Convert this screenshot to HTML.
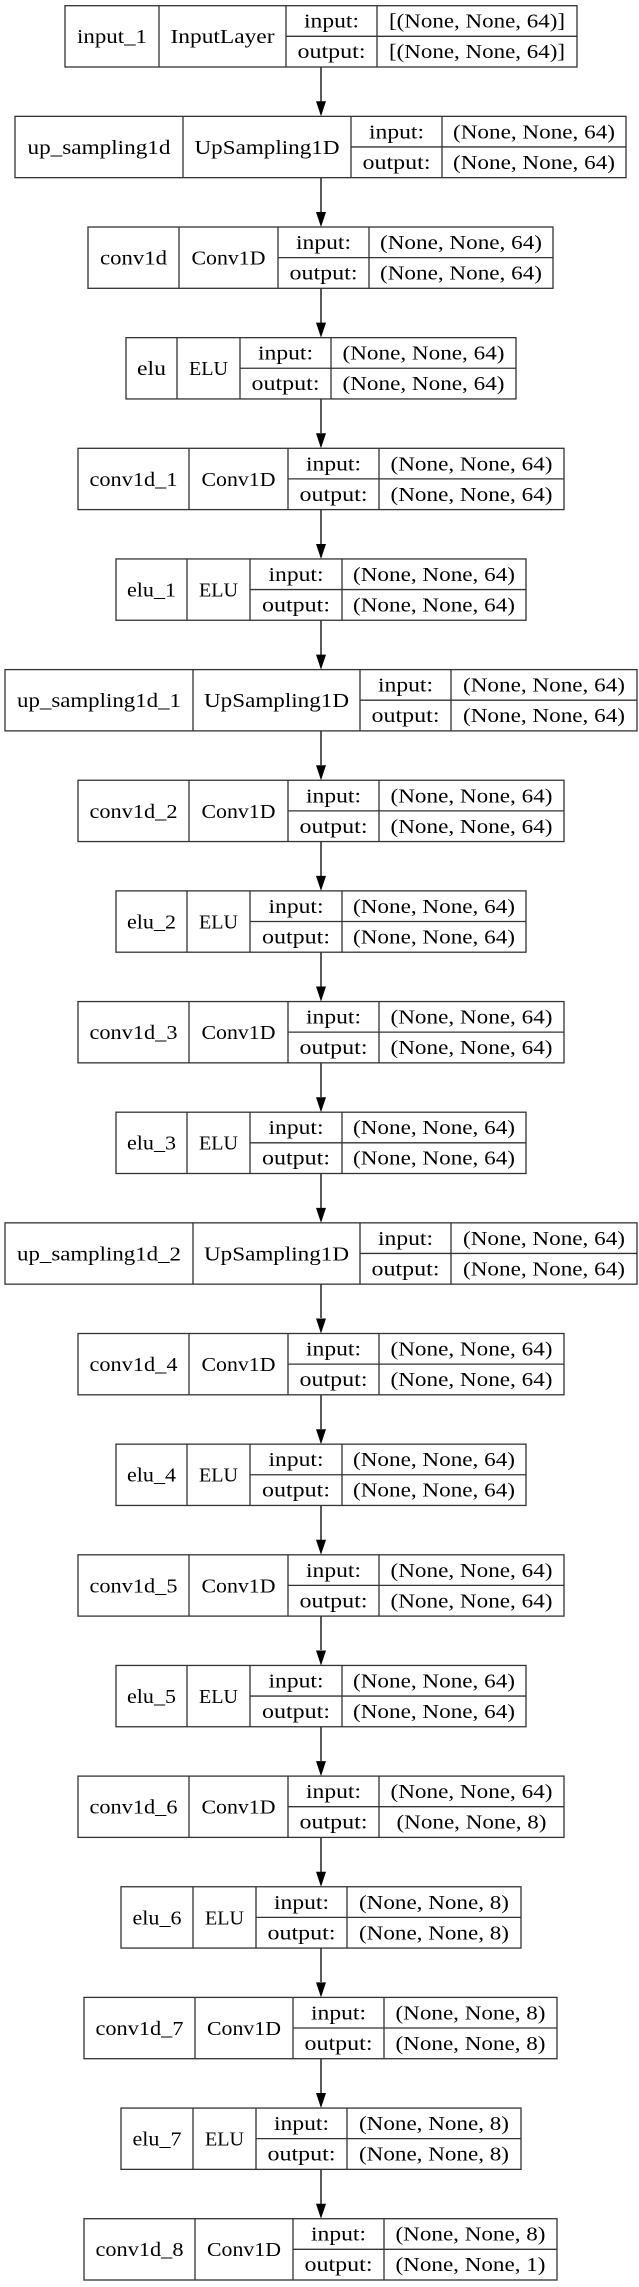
<!DOCTYPE html>
<html><head><meta charset="utf-8"><style>
html,body{margin:0;padding:0;background:#fff;}
svg{display:block;}
text{font-family:"Liberation Serif",serif;font-size:20px;fill:#000;text-anchor:middle;}
.b{fill:none;stroke:#333;stroke-width:1.3;}
.a{stroke:#000;stroke-width:1.3;}
</style></head><body>
<svg width="639" height="2287" viewBox="0 0 639 2287" xmlns="http://www.w3.org/2000/svg">
<g class="a">
<line x1="321" y1="67" x2="321" y2="102"/><line x1="321" y1="177.6" x2="321" y2="212"/><line x1="321" y1="288.3" x2="321" y2="323"/><line x1="321" y1="399" x2="321" y2="433"/><line x1="321" y1="509.6" x2="321" y2="544"/><line x1="321" y1="620.3" x2="321" y2="655"/><line x1="321" y1="730.9" x2="321" y2="765"/><line x1="321" y1="841.5" x2="321" y2="876"/><line x1="321" y1="952.2" x2="321" y2="987"/><line x1="321" y1="1062.9" x2="321" y2="1097"/><line x1="321" y1="1173.5" x2="321" y2="1208"/><line x1="321" y1="1284.2" x2="321" y2="1318"/><line x1="321" y1="1394.8" x2="321" y2="1429"/><line x1="321" y1="1505.5" x2="321" y2="1540"/><line x1="321" y1="1616.1" x2="321" y2="1650"/><line x1="321" y1="1726.8" x2="321" y2="1761"/><line x1="321" y1="1837.4" x2="321" y2="1872"/><line x1="321" y1="1948" x2="321" y2="1982"/><line x1="321" y1="2058.7" x2="321" y2="2093"/><line x1="321" y1="2169.4" x2="321" y2="2204"/>
</g>
<g fill="#000">
<polygon points="316,101.3 326,101.3 321,116.3"/><polygon points="316,212 326,212 321,227"/><polygon points="316,322.6 326,322.6 321,337.6"/><polygon points="316,433.3 326,433.3 321,448.3"/><polygon points="316,544 326,544 321,559"/><polygon points="316,654.6 326,654.6 321,669.6"/><polygon points="316,765.3 326,765.3 321,780.3"/><polygon points="316,875.9 326,875.9 321,890.9"/><polygon points="316,986.5 326,986.5 321,1001.5"/><polygon points="316,1097.2 326,1097.2 321,1112.2"/><polygon points="316,1207.9 326,1207.9 321,1222.9"/><polygon points="316,1318.5 326,1318.5 321,1333.5"/><polygon points="316,1429.2 326,1429.2 321,1444.2"/><polygon points="316,1539.8 326,1539.8 321,1554.8"/><polygon points="316,1650.5 326,1650.5 321,1665.5"/><polygon points="316,1761.1 326,1761.1 321,1776.1"/><polygon points="316,1871.8 326,1871.8 321,1886.8"/><polygon points="316,1982.4 326,1982.4 321,1997.4"/><polygon points="316,2093 326,2093 321,2108"/><polygon points="316,2203.7 326,2203.7 321,2218.7"/>
</g>

<g transform="translate(0,5.7)"><rect class="b" x="65" y="0" width="512" height="61.3"/><path class="b" d="M159 0V61.3M286 0V61.3M377 0V61.3M286 30.6H577"/>
<text x="112" y="37.5" textLength="70" lengthAdjust="spacingAndGlyphs">input_1</text><text x="222.5" y="37.5" textLength="104" lengthAdjust="spacingAndGlyphs">InputLayer</text>
<text x="331.5" y="22" textLength="55" lengthAdjust="spacingAndGlyphs">input:</text><text x="331.5" y="52.5" textLength="68" lengthAdjust="spacingAndGlyphs">output:</text>
<text x="477" y="22" textLength="176" lengthAdjust="spacingAndGlyphs">[(None, None, 64)]</text><text x="477" y="52.5" textLength="176" lengthAdjust="spacingAndGlyphs">[(None, None, 64)]</text></g>

<g transform="translate(0,116.35)"><rect class="b" x="15" y="0" width="611" height="61.3"/><path class="b" d="M183 0V61.3M351 0V61.3M442 0V61.3M351 30.6H626"/>
<text x="99" y="37.5" textLength="143" lengthAdjust="spacingAndGlyphs">up_sampling1d</text><text x="267" y="37.5" textLength="145" lengthAdjust="spacingAndGlyphs">UpSampling1D</text>
<text x="396.5" y="22" textLength="55" lengthAdjust="spacingAndGlyphs">input:</text><text x="396.5" y="52.5" textLength="68" lengthAdjust="spacingAndGlyphs">output:</text>
<text x="534" y="22" textLength="162" lengthAdjust="spacingAndGlyphs">(None, None, 64)</text><text x="534" y="52.5" textLength="162" lengthAdjust="spacingAndGlyphs">(None, None, 64)</text></g>

<g transform="translate(0,227)"><rect class="b" x="88" y="0" width="465" height="61.3"/><path class="b" d="M179 0V61.3M278 0V61.3M369 0V61.3M278 30.6H553"/>
<text x="133.5" y="37.5" textLength="67" lengthAdjust="spacingAndGlyphs">conv1d</text><text x="228.5" y="37.5" textLength="74" lengthAdjust="spacingAndGlyphs">Conv1D</text>
<text x="323.5" y="22" textLength="55" lengthAdjust="spacingAndGlyphs">input:</text><text x="323.5" y="52.5" textLength="68" lengthAdjust="spacingAndGlyphs">output:</text>
<text x="461" y="22" textLength="162" lengthAdjust="spacingAndGlyphs">(None, None, 64)</text><text x="461" y="52.5" textLength="162" lengthAdjust="spacingAndGlyphs">(None, None, 64)</text></g>

<g transform="translate(0,337.65)"><rect class="b" x="126" y="0" width="390" height="61.3"/><path class="b" d="M177 0V61.3M240 0V61.3M331 0V61.3M240 30.6H516"/>
<text x="151.5" y="37.5" textLength="29" lengthAdjust="spacingAndGlyphs">elu</text><text x="208.5" y="37.5" textLength="39" lengthAdjust="spacingAndGlyphs">ELU</text>
<text x="285.5" y="22" textLength="55" lengthAdjust="spacingAndGlyphs">input:</text><text x="285.5" y="52.5" textLength="68" lengthAdjust="spacingAndGlyphs">output:</text>
<text x="423.5" y="22" textLength="162" lengthAdjust="spacingAndGlyphs">(None, None, 64)</text><text x="423.5" y="52.5" textLength="162" lengthAdjust="spacingAndGlyphs">(None, None, 64)</text></g>

<g transform="translate(0,448.3)"><rect class="b" x="78" y="0" width="486" height="61.3"/><path class="b" d="M189 0V61.3M288 0V61.3M379 0V61.3M288 30.6H564"/>
<text x="133.5" y="37.5" textLength="88" lengthAdjust="spacingAndGlyphs">conv1d_1</text><text x="238.5" y="37.5" textLength="74" lengthAdjust="spacingAndGlyphs">Conv1D</text>
<text x="333.5" y="22" textLength="55" lengthAdjust="spacingAndGlyphs">input:</text><text x="333.5" y="52.5" textLength="68" lengthAdjust="spacingAndGlyphs">output:</text>
<text x="471.5" y="22" textLength="162" lengthAdjust="spacingAndGlyphs">(None, None, 64)</text><text x="471.5" y="52.5" textLength="162" lengthAdjust="spacingAndGlyphs">(None, None, 64)</text></g>

<g transform="translate(0,558.95)"><rect class="b" x="116" y="0" width="410" height="61.3"/><path class="b" d="M187 0V61.3M250 0V61.3M342 0V61.3M250 30.6H526"/>
<text x="151.5" y="37.5" textLength="49" lengthAdjust="spacingAndGlyphs">elu_1</text><text x="218.5" y="37.5" textLength="39" lengthAdjust="spacingAndGlyphs">ELU</text>
<text x="296" y="22" textLength="55" lengthAdjust="spacingAndGlyphs">input:</text><text x="296" y="52.5" textLength="68" lengthAdjust="spacingAndGlyphs">output:</text>
<text x="434" y="22" textLength="162" lengthAdjust="spacingAndGlyphs">(None, None, 64)</text><text x="434" y="52.5" textLength="162" lengthAdjust="spacingAndGlyphs">(None, None, 64)</text></g>

<g transform="translate(0,669.6)"><rect class="b" x="5" y="0" width="632" height="61.3"/><path class="b" d="M193 0V61.3M360 0V61.3M451 0V61.3M360 30.6H637"/>
<text x="99" y="37.5" textLength="164" lengthAdjust="spacingAndGlyphs">up_sampling1d_1</text><text x="276.5" y="37.5" textLength="145" lengthAdjust="spacingAndGlyphs">UpSampling1D</text>
<text x="405.5" y="22" textLength="55" lengthAdjust="spacingAndGlyphs">input:</text><text x="405.5" y="52.5" textLength="68" lengthAdjust="spacingAndGlyphs">output:</text>
<text x="544" y="22" textLength="162" lengthAdjust="spacingAndGlyphs">(None, None, 64)</text><text x="544" y="52.5" textLength="162" lengthAdjust="spacingAndGlyphs">(None, None, 64)</text></g>

<g transform="translate(0,780.25)"><rect class="b" x="78" y="0" width="486" height="61.3"/><path class="b" d="M189 0V61.3M288 0V61.3M379 0V61.3M288 30.6H564"/>
<text x="133.5" y="37.5" textLength="88" lengthAdjust="spacingAndGlyphs">conv1d_2</text><text x="238.5" y="37.5" textLength="74" lengthAdjust="spacingAndGlyphs">Conv1D</text>
<text x="333.5" y="22" textLength="55" lengthAdjust="spacingAndGlyphs">input:</text><text x="333.5" y="52.5" textLength="68" lengthAdjust="spacingAndGlyphs">output:</text>
<text x="471.5" y="22" textLength="162" lengthAdjust="spacingAndGlyphs">(None, None, 64)</text><text x="471.5" y="52.5" textLength="162" lengthAdjust="spacingAndGlyphs">(None, None, 64)</text></g>

<g transform="translate(0,890.9)"><rect class="b" x="116" y="0" width="410" height="61.3"/><path class="b" d="M187 0V61.3M250 0V61.3M342 0V61.3M250 30.6H526"/>
<text x="151.5" y="37.5" textLength="49" lengthAdjust="spacingAndGlyphs">elu_2</text><text x="218.5" y="37.5" textLength="39" lengthAdjust="spacingAndGlyphs">ELU</text>
<text x="296" y="22" textLength="55" lengthAdjust="spacingAndGlyphs">input:</text><text x="296" y="52.5" textLength="68" lengthAdjust="spacingAndGlyphs">output:</text>
<text x="434" y="22" textLength="162" lengthAdjust="spacingAndGlyphs">(None, None, 64)</text><text x="434" y="52.5" textLength="162" lengthAdjust="spacingAndGlyphs">(None, None, 64)</text></g>

<g transform="translate(0,1001.55)"><rect class="b" x="78" y="0" width="486" height="61.3"/><path class="b" d="M189 0V61.3M288 0V61.3M379 0V61.3M288 30.6H564"/>
<text x="133.5" y="37.5" textLength="88" lengthAdjust="spacingAndGlyphs">conv1d_3</text><text x="238.5" y="37.5" textLength="74" lengthAdjust="spacingAndGlyphs">Conv1D</text>
<text x="333.5" y="22" textLength="55" lengthAdjust="spacingAndGlyphs">input:</text><text x="333.5" y="52.5" textLength="68" lengthAdjust="spacingAndGlyphs">output:</text>
<text x="471.5" y="22" textLength="162" lengthAdjust="spacingAndGlyphs">(None, None, 64)</text><text x="471.5" y="52.5" textLength="162" lengthAdjust="spacingAndGlyphs">(None, None, 64)</text></g>

<g transform="translate(0,1112.2)"><rect class="b" x="116" y="0" width="410" height="61.3"/><path class="b" d="M187 0V61.3M250 0V61.3M342 0V61.3M250 30.6H526"/>
<text x="151.5" y="37.5" textLength="49" lengthAdjust="spacingAndGlyphs">elu_3</text><text x="218.5" y="37.5" textLength="39" lengthAdjust="spacingAndGlyphs">ELU</text>
<text x="296" y="22" textLength="55" lengthAdjust="spacingAndGlyphs">input:</text><text x="296" y="52.5" textLength="68" lengthAdjust="spacingAndGlyphs">output:</text>
<text x="434" y="22" textLength="162" lengthAdjust="spacingAndGlyphs">(None, None, 64)</text><text x="434" y="52.5" textLength="162" lengthAdjust="spacingAndGlyphs">(None, None, 64)</text></g>

<g transform="translate(0,1222.85)"><rect class="b" x="5" y="0" width="632" height="61.3"/><path class="b" d="M193 0V61.3M360 0V61.3M451 0V61.3M360 30.6H637"/>
<text x="99" y="37.5" textLength="164" lengthAdjust="spacingAndGlyphs">up_sampling1d_2</text><text x="276.5" y="37.5" textLength="145" lengthAdjust="spacingAndGlyphs">UpSampling1D</text>
<text x="405.5" y="22" textLength="55" lengthAdjust="spacingAndGlyphs">input:</text><text x="405.5" y="52.5" textLength="68" lengthAdjust="spacingAndGlyphs">output:</text>
<text x="544" y="22" textLength="162" lengthAdjust="spacingAndGlyphs">(None, None, 64)</text><text x="544" y="52.5" textLength="162" lengthAdjust="spacingAndGlyphs">(None, None, 64)</text></g>

<g transform="translate(0,1333.5)"><rect class="b" x="78" y="0" width="486" height="61.3"/><path class="b" d="M189 0V61.3M288 0V61.3M379 0V61.3M288 30.6H564"/>
<text x="133.5" y="37.5" textLength="88" lengthAdjust="spacingAndGlyphs">conv1d_4</text><text x="238.5" y="37.5" textLength="74" lengthAdjust="spacingAndGlyphs">Conv1D</text>
<text x="333.5" y="22" textLength="55" lengthAdjust="spacingAndGlyphs">input:</text><text x="333.5" y="52.5" textLength="68" lengthAdjust="spacingAndGlyphs">output:</text>
<text x="471.5" y="22" textLength="162" lengthAdjust="spacingAndGlyphs">(None, None, 64)</text><text x="471.5" y="52.5" textLength="162" lengthAdjust="spacingAndGlyphs">(None, None, 64)</text></g>

<g transform="translate(0,1444.15)"><rect class="b" x="116" y="0" width="410" height="61.3"/><path class="b" d="M187 0V61.3M250 0V61.3M342 0V61.3M250 30.6H526"/>
<text x="151.5" y="37.5" textLength="49" lengthAdjust="spacingAndGlyphs">elu_4</text><text x="218.5" y="37.5" textLength="39" lengthAdjust="spacingAndGlyphs">ELU</text>
<text x="296" y="22" textLength="55" lengthAdjust="spacingAndGlyphs">input:</text><text x="296" y="52.5" textLength="68" lengthAdjust="spacingAndGlyphs">output:</text>
<text x="434" y="22" textLength="162" lengthAdjust="spacingAndGlyphs">(None, None, 64)</text><text x="434" y="52.5" textLength="162" lengthAdjust="spacingAndGlyphs">(None, None, 64)</text></g>

<g transform="translate(0,1554.8)"><rect class="b" x="78" y="0" width="486" height="61.3"/><path class="b" d="M189 0V61.3M288 0V61.3M379 0V61.3M288 30.6H564"/>
<text x="133.5" y="37.5" textLength="88" lengthAdjust="spacingAndGlyphs">conv1d_5</text><text x="238.5" y="37.5" textLength="74" lengthAdjust="spacingAndGlyphs">Conv1D</text>
<text x="333.5" y="22" textLength="55" lengthAdjust="spacingAndGlyphs">input:</text><text x="333.5" y="52.5" textLength="68" lengthAdjust="spacingAndGlyphs">output:</text>
<text x="471.5" y="22" textLength="162" lengthAdjust="spacingAndGlyphs">(None, None, 64)</text><text x="471.5" y="52.5" textLength="162" lengthAdjust="spacingAndGlyphs">(None, None, 64)</text></g>

<g transform="translate(0,1665.45)"><rect class="b" x="116" y="0" width="410" height="61.3"/><path class="b" d="M187 0V61.3M250 0V61.3M342 0V61.3M250 30.6H526"/>
<text x="151.5" y="37.5" textLength="49" lengthAdjust="spacingAndGlyphs">elu_5</text><text x="218.5" y="37.5" textLength="39" lengthAdjust="spacingAndGlyphs">ELU</text>
<text x="296" y="22" textLength="55" lengthAdjust="spacingAndGlyphs">input:</text><text x="296" y="52.5" textLength="68" lengthAdjust="spacingAndGlyphs">output:</text>
<text x="434" y="22" textLength="162" lengthAdjust="spacingAndGlyphs">(None, None, 64)</text><text x="434" y="52.5" textLength="162" lengthAdjust="spacingAndGlyphs">(None, None, 64)</text></g>

<g transform="translate(0,1776.1)"><rect class="b" x="78" y="0" width="486" height="61.3"/><path class="b" d="M189 0V61.3M288 0V61.3M379 0V61.3M288 30.6H564"/>
<text x="133.5" y="37.5" textLength="88" lengthAdjust="spacingAndGlyphs">conv1d_6</text><text x="238.5" y="37.5" textLength="74" lengthAdjust="spacingAndGlyphs">Conv1D</text>
<text x="333.5" y="22" textLength="55" lengthAdjust="spacingAndGlyphs">input:</text><text x="333.5" y="52.5" textLength="68" lengthAdjust="spacingAndGlyphs">output:</text>
<text x="471.5" y="22" textLength="162" lengthAdjust="spacingAndGlyphs">(None, None, 64)</text><text x="471.5" y="52.5" textLength="150" lengthAdjust="spacingAndGlyphs">(None, None, 8)</text></g>

<g transform="translate(0,1886.75)"><rect class="b" x="121" y="0" width="400" height="61.3"/><path class="b" d="M193 0V61.3M256 0V61.3M347 0V61.3M256 30.6H521"/>
<text x="157" y="37.5" textLength="49" lengthAdjust="spacingAndGlyphs">elu_6</text><text x="224.5" y="37.5" textLength="39" lengthAdjust="spacingAndGlyphs">ELU</text>
<text x="301.5" y="22" textLength="55" lengthAdjust="spacingAndGlyphs">input:</text><text x="301.5" y="52.5" textLength="68" lengthAdjust="spacingAndGlyphs">output:</text>
<text x="434" y="22" textLength="150" lengthAdjust="spacingAndGlyphs">(None, None, 8)</text><text x="434" y="52.5" textLength="150" lengthAdjust="spacingAndGlyphs">(None, None, 8)</text></g>

<g transform="translate(0,1997.4)"><rect class="b" x="84" y="0" width="473" height="61.3"/><path class="b" d="M195 0V61.3M293 0V61.3M384 0V61.3M293 30.6H557"/>
<text x="139.5" y="37.5" textLength="88" lengthAdjust="spacingAndGlyphs">conv1d_7</text><text x="244" y="37.5" textLength="74" lengthAdjust="spacingAndGlyphs">Conv1D</text>
<text x="338.5" y="22" textLength="55" lengthAdjust="spacingAndGlyphs">input:</text><text x="338.5" y="52.5" textLength="68" lengthAdjust="spacingAndGlyphs">output:</text>
<text x="470.5" y="22" textLength="150" lengthAdjust="spacingAndGlyphs">(None, None, 8)</text><text x="470.5" y="52.5" textLength="150" lengthAdjust="spacingAndGlyphs">(None, None, 8)</text></g>

<g transform="translate(0,2108.05)"><rect class="b" x="121" y="0" width="400" height="61.3"/><path class="b" d="M193 0V61.3M256 0V61.3M347 0V61.3M256 30.6H521"/>
<text x="157" y="37.5" textLength="49" lengthAdjust="spacingAndGlyphs">elu_7</text><text x="224.5" y="37.5" textLength="39" lengthAdjust="spacingAndGlyphs">ELU</text>
<text x="301.5" y="22" textLength="55" lengthAdjust="spacingAndGlyphs">input:</text><text x="301.5" y="52.5" textLength="68" lengthAdjust="spacingAndGlyphs">output:</text>
<text x="434" y="22" textLength="150" lengthAdjust="spacingAndGlyphs">(None, None, 8)</text><text x="434" y="52.5" textLength="150" lengthAdjust="spacingAndGlyphs">(None, None, 8)</text></g>

<g transform="translate(0,2218.7)"><rect class="b" x="84" y="0" width="473" height="61.3"/><path class="b" d="M195 0V61.3M293 0V61.3M384 0V61.3M293 30.6H557"/>
<text x="139.5" y="37.5" textLength="88" lengthAdjust="spacingAndGlyphs">conv1d_8</text><text x="244" y="37.5" textLength="74" lengthAdjust="spacingAndGlyphs">Conv1D</text>
<text x="338.5" y="22" textLength="55" lengthAdjust="spacingAndGlyphs">input:</text><text x="338.5" y="52.5" textLength="68" lengthAdjust="spacingAndGlyphs">output:</text>
<text x="470.5" y="22" textLength="150" lengthAdjust="spacingAndGlyphs">(None, None, 8)</text><text x="470.5" y="52.5" textLength="150" lengthAdjust="spacingAndGlyphs">(None, None, 1)</text></g>
</svg>
</body></html>
